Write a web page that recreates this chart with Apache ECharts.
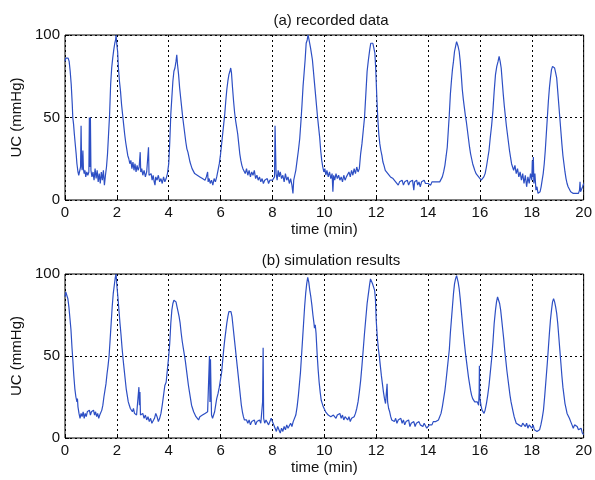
<!DOCTYPE html>
<html>
<head>
<meta charset="utf-8">
<script src="https://cdn.jsdelivr.net/npm/echarts@6/dist/echarts.min.js"></script>
<style>
  html, body { margin: 0; padding: 0; background: #fff; }
  #chart { width: 595px; height: 480px; }
</style>
</head>
<body>
<div id="chart"></div>
<script>
// (a) recorded data: [time (min), UC (mmHg)]
const recorded = [
  [0,84],[0.03,86],[0.08,85],[0.12,86],[0.16,84],[0.2,78],[0.24,70],[0.28,58],[0.3,50],[0.33,46],[0.36,40],[0.4,33],[0.43,28],[0.46,22],[0.5,17],[0.53,15],[0.56,16],[0.58,14],[0.6,20],[0.62,45],[0.64,22],[0.66,18],[0.69,30],[0.71,19],[0.74,16],[0.77,18],[0.8,14],[0.84,17],[0.88,15],[0.92,17],[0.94,50],[0.96,20],[0.98,50],[1.0,18],
  [1.04,14],[1.08,17],[1.12,12],[1.16,19],[1.2,13],[1.24,18],[1.28,11],[1.32,16],[1.36,10],[1.4,17],[1.44,12],[1.48,18],[1.52,9],[1.56,15],[1.6,20],[1.64,28],[1.68,40],[1.72,52],[1.76,70],[1.8,80],[1.84,86],[1.88,91],[1.92,95],[1.95,97],[1.97,100],[2.0,94],[2.03,90],[2.06,80],[2.1,72],[2.14,66],[2.18,58],[2.22,52],[2.26,46],[2.3,40],[2.34,35],[2.38,31],[2.42,27],[2.46,25],[2.5,22],[2.54,24],[2.58,19],[2.62,23],[2.66,18],[2.7,22],[2.74,17],[2.78,21],[2.82,18],[2.86,20],[2.9,29],[2.92,17],[2.96,19],
  [3.0,15],[3.05,18],[3.1,14],[3.15,17],[3.2,16],[3.22,32],[3.24,15],[3.28,14],[3.32,16],[3.36,12],[3.4,15],[3.44,11],[3.47,9],[3.5,14],[3.55,12],[3.6,15],[3.65,11],[3.7,13],[3.75,10],[3.8,14],[3.85,11],[3.9,13],[3.95,16],[4.0,22],[4.04,35],[4.08,52],[4.12,62],[4.16,72],[4.2,78],[4.24,80],[4.28,84],[4.31,88],[4.34,82],[4.38,76],[4.42,68],[4.46,62],[4.5,56],[4.54,50],[4.58,45],[4.62,40],[4.66,35],[4.7,31],[4.74,29],[4.78,26],[4.82,23],[4.86,21],[4.9,19],[4.95,18],
  [5.0,16],[5.05,17],[5.1,15],[5.15,16],[5.2,14],[5.25,15],[5.3,13],[5.35,14],[5.4,12],[5.45,14],[5.5,17],[5.52,11],[5.56,13],[5.6,10],[5.65,12],[5.7,9],[5.75,13],[5.8,11],[5.85,14],[5.9,18],[5.95,22],[6.0,28],[6.04,34],[6.08,40],[6.12,46],[6.16,52],[6.2,60],[6.24,67],[6.28,72],[6.32,76],[6.36,78],[6.39,80],[6.42,77],[6.46,68],[6.5,60],[6.54,53],[6.58,48],[6.62,44],[6.66,40],[6.7,34],[6.74,28],[6.78,24],[6.82,21],[6.86,19],[6.9,18],[6.95,16],
  [7.0,19],[7.05,15],[7.1,18],[7.15,14],[7.2,17],[7.25,15],[7.3,18],[7.35,13],[7.4,15],[7.45,12],[7.5,14],[7.55,11],[7.6,13],[7.65,10],[7.7,12],[7.75,11],[7.8,13],[7.85,10],[7.9,12],[7.95,11],[8.0,12],[8.05,11],[8.08,14],[8.1,45],[8.12,30],[8.14,16],[8.18,12],[8.22,18],[8.26,14],[8.3,17],[8.35,13],[8.4,15],[8.45,11],[8.5,16],[8.55,12],[8.6,14],[8.65,10],[8.7,13],[8.75,9],[8.79,4],[8.82,12],[8.86,15],[8.9,18],[8.95,24],
  [9.0,30],[9.05,37],[9.1,48],[9.14,58],[9.18,69],[9.22,77],[9.26,85],[9.3,95],[9.34,97],[9.37,100],[9.4,98],[9.43,97],[9.47,92],[9.5,89],[9.54,85],[9.58,78],[9.62,71],[9.66,64],[9.7,57],[9.74,50],[9.78,44],[9.82,38],[9.86,30],[9.9,24],[9.94,20],[9.98,17],[10.02,19],[10.06,15],[10.1,18],[10.15,14],[10.2,17],[10.25,13],[10.3,16],[10.33,5],[10.36,15],[10.4,12],[10.45,16],[10.5,13],[10.55,15],[10.6,12],[10.65,14],[10.7,11],[10.75,15],[10.8,12],[10.85,14],[10.9,13],[10.95,17],
  [11.0,14],[11.05,18],[11.1,15],[11.15,19],[11.2,16],[11.25,20],[11.3,17],[11.35,19],[11.4,28],[11.45,34],[11.5,42],[11.55,50],[11.6,64],[11.65,78],[11.7,85],[11.75,91],[11.79,95],[11.83,94],[11.87,95],[11.91,92],[11.95,89],[11.98,80],[12.0,72],[12.03,60],[12.06,50],[12.1,40],[12.14,34],[12.18,30],[12.22,27],[12.26,23],[12.3,21],[12.35,18],[12.4,19],[12.45,16],[12.5,17],[12.55,14],[12.6,15],[12.65,13],[12.7,14],[12.75,11],[12.8,12],[12.85,9],[12.9,11],[12.95,10],
  [13.0,12],[13.05,9],[13.1,11],[13.15,10],[13.2,12],[13.25,9],[13.3,11],[13.35,10],[13.4,12],[13.45,6],[13.48,11],[13.52,10],[13.56,12],[13.6,9],[13.65,11],[13.7,8],[13.75,11],[13.8,10],[13.85,12],[13.9,10],[13.95,11],[14.0,10],[14.05,11],[14.1,9],[14.15,11],[14.2,10],[14.25,11],[14.3,10],[14.35,11],[14.4,10],[14.45,11],[14.5,12],[14.55,14],[14.6,17],[14.65,21],[14.7,27],[14.74,32],[14.78,42],[14.82,52],[14.86,64],[14.9,72],[14.94,79],[14.98,84],
  [15.02,90],[15.06,93],[15.1,96],[15.13,95],[15.16,93],[15.2,90],[15.24,84],[15.28,76],[15.32,67],[15.36,61],[15.4,56],[15.44,51],[15.48,47],[15.52,42],[15.56,37],[15.6,32],[15.64,28],[15.68,25],[15.72,22],[15.76,20],[15.8,18],[15.85,16],[15.9,15],[15.95,14],[16.0,13],[16.05,12],[16.1,13],[16.15,14],[16.2,16],[16.25,20],[16.3,25],[16.35,30],[16.4,38],[16.45,45],[16.5,54],[16.55,66],[16.6,76],[16.65,81],[16.7,84],[16.74,87],[16.78,84],[16.82,80],[16.86,72],[16.9,64],[16.94,57],[16.98,51],
  [17.02,45],[17.06,40],[17.1,35],[17.14,30],[17.18,26],[17.22,22],[17.26,20],[17.3,18],[17.35,21],[17.4,16],[17.45,19],[17.5,14],[17.55,17],[17.6,12],[17.65,16],[17.7,10],[17.75,15],[17.8,8],[17.85,14],[17.9,10],[17.95,16],[18.0,12],[18.02,24],[18.04,14],[18.06,26],[18.08,10],[18.12,16],[18.16,6],[18.2,8],[18.24,4],[18.28,3],[18.32,5],[18.36,8],[18.4,12],[18.44,16],[18.48,22],[18.52,30],[18.56,40],[18.6,50],[18.64,60],[18.68,68],[18.72,74],[18.76,79],[18.8,81],[18.84,82],[18.88,80],[18.92,77],[18.96,74],
  [19.0,66],[19.04,58],[19.08,50],[19.12,42],[19.16,34],[19.2,27],[19.24,22],[19.28,17],[19.32,13],[19.36,10],[19.4,8],[19.45,7],[19.5,5],[19.55,6],[19.6,4],[19.65,5],[19.7,4],[19.75,5],[19.8,4],[19.84,6],[19.86,11],[19.88,5],[19.92,4],[19.96,8],[20.0,10]
];

// (b) simulation results: [time (min), UC (mmHg)]
const simulated = [
  [0,86],[0.03,89],[0.07,88],[0.11,85],[0.15,80],[0.19,73],[0.23,66],[0.27,55],[0.3,48],[0.34,38],[0.38,30],[0.42,25],[0.46,22],[0.48,24],[0.5,19],[0.54,15],[0.58,12],[0.62,15],[0.66,13],[0.7,16],[0.74,12],[0.78,15],[0.82,13],[0.86,16],[0.9,15],[0.94,17],[0.98,14],
  [1.02,16],[1.06,15],[1.1,17],[1.14,14],[1.18,16],[1.22,13],[1.26,15],[1.3,12],[1.34,14],[1.38,15],[1.42,17],[1.46,20],[1.5,25],[1.54,29],[1.58,33],[1.62,39],[1.66,44],[1.7,50],[1.74,60],[1.78,70],[1.82,80],[1.86,88],[1.9,93],[1.94,98],[1.97,100],
  [2.0,93],[2.04,86],[2.08,78],[2.12,70],[2.16,63],[2.2,55],[2.24,48],[2.28,42],[2.32,36],[2.36,30],[2.4,26],[2.44,22],[2.48,20],[2.52,18],[2.56,17],[2.6,16],[2.64,18],[2.68,15],[2.72,16],[2.76,14],[2.8,15],[2.83,13],[2.85,31],[2.87,20],[2.89,28],[2.91,14],[2.95,13],
  [3.0,15],[3.05,12],[3.1,14],[3.15,11],[3.2,13],[3.25,10],[3.3,12],[3.35,9],[3.4,8],[3.45,12],[3.5,15],[3.55,13],[3.6,10],[3.65,12],[3.7,15],[3.75,20],[3.8,26],[3.85,32],[3.9,34],[3.95,42],
  [4.0,50],[4.04,58],[4.08,70],[4.12,78],[4.16,82],[4.2,84],[4.24,85],[4.28,83],[4.32,80],[4.36,77],[4.4,74],[4.44,70],[4.48,64],[4.52,59],[4.56,55],[4.6,51],[4.64,47],[4.68,42],[4.72,37],[4.76,32],[4.8,28],[4.84,24],[4.88,20],[4.92,18],[4.96,16],
  [5.0,15],[5.05,13],[5.1,12],[5.15,11],[5.2,13],[5.25,12],[5.3,14],[5.35,13],[5.4,15],[5.45,14],[5.5,16],[5.54,15],[5.57,50],[5.59,22],[5.61,48],[5.63,30],[5.65,14],[5.69,12],[5.73,14],[5.77,16],[5.81,20],[5.85,24],[5.9,27],[5.95,31],
  [6.0,36],[6.04,40],[6.08,47],[6.12,54],[6.16,60],[6.2,65],[6.24,70],[6.28,74],[6.32,77],[6.36,78],[6.4,77],[6.44,74],[6.48,68],[6.52,62],[6.56,56],[6.6,50],[6.64,44],[6.68,38],[6.72,32],[6.76,26],[6.8,20],[6.84,16],[6.88,13],[6.92,11],[6.96,10],
  [7.0,11],[7.05,9],[7.1,11],[7.15,8],[7.2,10],[7.25,9],[7.3,11],[7.35,8],[7.4,10],[7.45,9],[7.5,11],[7.55,9],[7.6,10],[7.62,22],[7.64,55],[7.66,12],[7.7,9],[7.75,11],[7.8,10],[7.85,8],[7.9,10],[7.95,12],
  [8.0,10],[8.05,8],[8.1,6],[8.15,4],[8.2,7],[8.25,5],[8.3,3],[8.35,6],[8.4,4],[8.45,7],[8.5,5],[8.55,8],[8.6,6],[8.65,7],[8.7,9],[8.75,7],[8.8,10],[8.85,11],[8.9,14],[8.95,19],
  [9.0,26],[9.04,33],[9.08,40],[9.12,50],[9.16,60],[9.2,70],[9.24,80],[9.28,88],[9.32,94],[9.36,98],[9.4,95],[9.44,90],[9.48,86],[9.52,81],[9.56,75],[9.6,70],[9.62,67],[9.65,69],[9.68,64],[9.72,52],[9.76,42],[9.8,34],[9.84,28],[9.88,23],[9.92,21],[9.96,19],
  [10.0,18],[10.05,16],[10.1,15],[10.15,14],[10.2,15],[10.25,13],[10.3,12],[10.35,14],[10.4,13],[10.45,12],[10.5,14],[10.55,13],[10.6,15],[10.65,12],[10.7,14],[10.75,11],[10.8,13],[10.85,12],[10.9,11],[10.95,13],
  [11.0,10],[11.05,12],[11.1,11],[11.15,13],[11.2,15],[11.25,18],[11.3,22],[11.35,28],[11.4,35],[11.45,44],[11.5,54],[11.55,64],[11.6,73],[11.65,82],[11.7,88],[11.75,94],[11.78,97],[11.82,96],[11.86,94],[11.9,93],[11.94,90],[11.97,85],
  [12.0,72],[12.04,62],[12.08,55],[12.12,50],[12.16,44],[12.2,38],[12.24,33],[12.28,28],[12.32,24],[12.36,21],[12.4,20],[12.42,33],[12.44,22],[12.48,18],[12.52,16],[12.56,13],[12.6,11],[12.65,12],[12.7,10],[12.75,12],[12.8,9],[12.85,11],[12.9,10],[12.95,12],
  [13.0,9],[13.05,11],[13.1,8],[13.15,10],[13.2,9],[13.25,11],[13.3,7],[13.35,9],[13.4,8],[13.45,10],[13.5,7],[13.55,9],[13.6,8],[13.65,10],[13.7,8],[13.75,9],[13.8,7],[13.85,9],[13.9,8],[13.95,6],
  [14.0,5],[14.05,8],[14.1,9],[14.15,8],[14.2,10],[14.25,9],[14.3,10],[14.35,9],[14.4,11],[14.45,12],[14.5,15],[14.55,19],[14.6,24],[14.65,29],[14.7,36],[14.74,42],[14.78,48],[14.82,54],[14.86,64],[14.9,72],[14.94,80],[14.98,88],
  [15.02,94],[15.06,97],[15.1,99],[15.13,98],[15.16,95],[15.2,91],[15.24,85],[15.28,78],[15.32,71],[15.36,64],[15.4,58],[15.44,52],[15.48,47],[15.52,42],[15.56,37],[15.6,33],[15.64,29],[15.68,26],[15.72,24],[15.76,23],[15.8,22],[15.85,21],[15.9,22],[15.95,20],[15.97,28],[15.98,44],[15.99,30],
  [16.0,24],[16.04,20],[16.08,17],[16.12,16],[16.16,15],[16.2,17],[16.25,21],[16.3,26],[16.35,32],[16.4,40],[16.45,48],[16.5,58],[16.55,70],[16.6,78],[16.64,83],[16.68,86],[16.72,85],[16.76,82],[16.8,78],[16.84,72],[16.88,66],[16.92,60],[16.96,53],
  [17.0,47],[17.04,41],[17.08,36],[17.12,31],[17.16,26],[17.2,22],[17.24,19],[17.28,16],[17.32,13],[17.36,11],[17.4,9],[17.45,10],[17.5,8],[17.55,9],[17.6,7],[17.65,9],[17.7,8],[17.75,7],[17.8,9],[17.85,6],[17.9,8],[17.95,7],
  [18.0,6],[18.05,8],[18.1,5],[18.15,6],[18.2,4],[18.25,3],[18.3,5],[18.35,8],[18.4,12],[18.45,17],[18.5,26],[18.55,36],[18.6,46],[18.64,55],[18.68,64],[18.72,72],[18.76,78],[18.8,83],[18.84,85],[18.88,83],[18.92,80],[18.96,76],
  [19.0,70],[19.04,62],[19.08,54],[19.12,46],[19.16,38],[19.2,31],[19.24,26],[19.28,21],[19.32,18],[19.36,15],[19.4,14],[19.45,12],[19.5,10],[19.55,8],[19.6,6],[19.65,8],[19.7,9],[19.75,7],[19.8,5],[19.85,4],[19.9,6],[19.95,3],[20.0,2]
];

const titles = ['(a) recorded data', '(b) simulation results'];
const xName = 'time (min)';
const yName = 'UC (mmHg)';

const font = 'Liberation Sans, Arial, sans-serif';
const lineColor = '#2d4fc4';

const xAxisFor = (gridIndex) => ({
  type: 'value',
  gridIndex,
  min: 0,
  max: 20,
  interval: 2,
  name: xName,
  nameLocation: 'middle',
  nameGap: 22,
  nameTextStyle: { color: '#111', fontSize: 15, fontFamily: font },
  axisLine: { show: false },
  axisTick: { show: true, inside: true, length: 4, lineStyle: { color: '#000' } },
  axisLabel: { color: '#111', fontSize: 15, fontFamily: font, margin: 5 },
  splitLine: { show: true, lineStyle: { color: '#000', type: [2, 3], width: 1 } }
});

const yAxisFor = (gridIndex) => ({
  type: 'value',
  gridIndex,
  min: 0,
  max: 100,
  interval: 50,
  name: yName,
  nameLocation: 'middle',
  nameGap: 40,
  nameTextStyle: { color: '#111', fontSize: 15, fontFamily: font },
  axisLine: { show: false },
  axisTick: { show: true, inside: true, length: 4, lineStyle: { color: '#000' } },
  axisLabel: { color: '#111', fontSize: 15, fontFamily: font, margin: 5 },
  splitLine: { show: true, lineStyle: { color: '#000', type: [2, 3], width: 1 } }
});

const titleStyle = { color: '#111', fontSize: 15, fontWeight: 'normal', fontFamily: font };

const chart = echarts.init(document.getElementById('chart'), null, { renderer: 'canvas' });
chart.setOption({
  animation: false,
  backgroundColor: '#fff',
  title: [
    { text: titles[0], left: 326, textAlign: 'center', top: 8, textStyle: titleStyle },
    { text: titles[1], left: 326, textAlign: 'center', top: 248, textStyle: titleStyle }
  ],
  grid: [
    { left: 65, width: 522, top: 35, height: 165, show: true, borderColor: '#000', borderWidth: 1, backgroundColor: '#fff' },
    { left: 65, width: 522, top: 274, height: 164, show: true, borderColor: '#000', borderWidth: 1, backgroundColor: '#fff' }
  ],
  xAxis: [xAxisFor(0), xAxisFor(1)],
  yAxis: [yAxisFor(0), yAxisFor(1)],
  series: [
    { type: 'line', xAxisIndex: 0, yAxisIndex: 0, data: recorded, showSymbol: false, lineStyle: { color: lineColor, width: 1.2 } },
    { type: 'line', xAxisIndex: 1, yAxisIndex: 1, data: simulated, showSymbol: false, lineStyle: { color: lineColor, width: 1.2 } }
  ]
});
</script>
</body>
</html>
